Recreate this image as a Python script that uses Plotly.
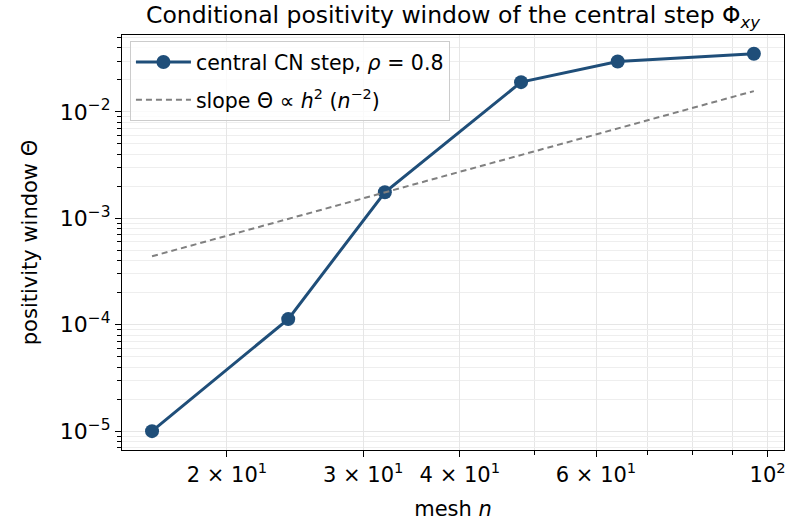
import plotly.graph_objects as go

# data
mesh_n = [16, 24, 32, 48, 64, 96]
theta = [1.0e-5, 1.13e-4, 1.76e-3, 1.905e-2, 2.98e-2, 3.52e-2]
ref_n = [16, 96]
ref_theta = [4.4e-4, 1.57e-2]

x_tickvals = [20, 30, 40, 60, 100]
x_ticktext = ["2 × 10<sup>1</sup>", "3 × 10<sup>1</sup>", "4 × 10<sup>1</sup>", "6 × 10<sup>1</sup>", "10<sup>2</sup>"]
x_minor = [50, 70, 80, 90]
y_tickvals = [1e-5, 1e-4, 1e-3, 1e-2]
y_ticktext = ["10<sup>−5</sup>", "10<sup>−4</sup>", "10<sup>−3</sup>", "10<sup>−2</sup>"]
y_minor = [m * 10.0 ** e for e in range(-6, -1) for m in range(2, 10)]

FONT = "DejaVu Sans"
BLUE = "#1f4e79"

fig = go.Figure()
fig.add_trace(go.Scatter(
    x=mesh_n, y=theta, mode="lines+markers",
    name="central CN step, <i>ρ</i> = 0.8", legendgroup="a",
    line=dict(color=BLUE, width=3),
    marker=dict(color=BLUE, size=14),
))
fig.add_trace(go.Scatter(
    x=ref_n, y=ref_theta, mode="lines", legendgroup="b",
    name="slope Θ ∝ <i>h</i><sup>2</sup> (<i>n</i><sup>−2</sup>)",
    line=dict(color="#808080", width=2, dash="6px,4px"),
))

grid_c = "#e6e6e6"
fig.update_layout(
    width=793, height=523,
    margin=dict(l=122, r=9, t=35, b=73, autoexpand=False),
    paper_bgcolor="white", plot_bgcolor="white",
    font=dict(family=FONT, color="black", size=21),
    title=dict(text="Conditional positivity window of the central step Φ<sub><i>xy</i></sub>",
               x=0.5, xref="paper", xanchor="center", y=0.972, yref="container", yanchor="middle",
               font=dict(size=23.5, family=FONT)),
    legend=dict(x=0.012, y=0.985, xanchor="left", yanchor="top",
                bordercolor="#cccccc", borderwidth=1, bgcolor="rgba(255,255,255,0.8)",
                font=dict(size=20.5, family=FONT), tracegroupgap=8, itemwidth=55),
    showlegend=True,
)
fig.update_xaxes(
    type="log", range=[1.1653, 2.0212], automargin=False,
    tickmode="array", tickvals=x_tickvals, ticktext=x_ticktext,
    ticks="outside", ticklen=6, tickcolor="black",
    showline=True, linecolor="black", linewidth=1.2, mirror=True,
    showgrid=True, gridcolor=grid_c, gridwidth=1,
    minor=dict(tickmode="array", tickvals=x_minor, ticks="outside", ticklen=3.5,
               tickcolor="black", showgrid=True, gridcolor=grid_c, gridwidth=1),
    tickfont=dict(size=21),
    title=dict(text="mesh <i>n</i>", font=dict(size=21), standoff=15),
    zeroline=False,
)
fig.update_yaxes(
    type="log", range=[-5.177, -1.277], automargin=False,
    tickmode="array", tickvals=y_tickvals, ticktext=y_ticktext,
    ticks="outside", ticklen=6, tickcolor="black",
    showline=True, linecolor="black", linewidth=1.2, mirror=True,
    showgrid=True, gridcolor=grid_c, gridwidth=1,
    minor=dict(tickmode="array", tickvals=y_minor, ticks="outside", ticklen=3.5,
               tickcolor="black", showgrid=True, gridcolor="#eeeeee", gridwidth=1),
    tickfont=dict(size=22),
    title=dict(text="positivity window Θ", font=dict(size=21), standoff=16),
    zeroline=False,
)
fig.write_html("out.html")
